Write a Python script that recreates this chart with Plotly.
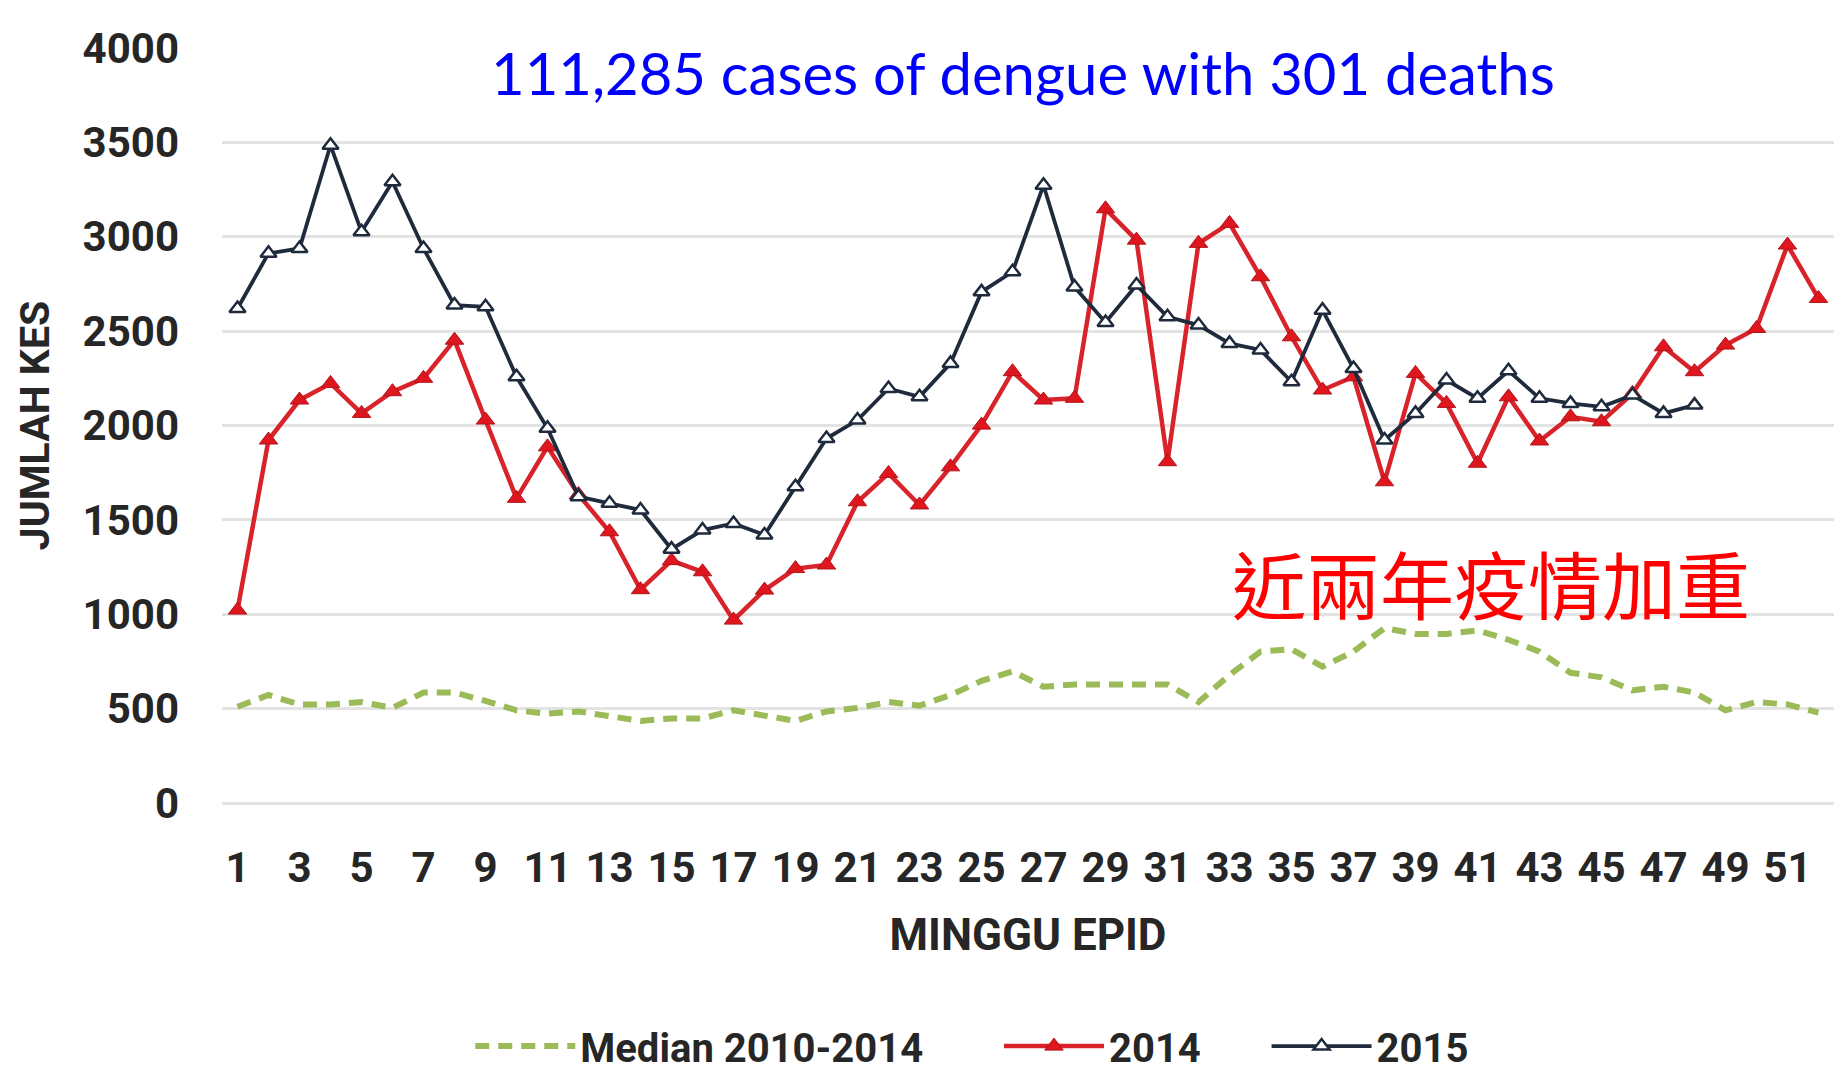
import plotly.graph_objects as go

weeks = list(range(1, 53))

median_2010_2014 = [510, 572, 522, 522, 535, 504, 585, 585, 541, 491,
                    473, 485, 460, 435, 448, 448, 491, 460, 435, 485,
                    504, 535, 516, 572, 647, 697, 616, 628, 628, 628,
                    628, 535, 678, 802, 815, 722, 802, 927, 896, 896,
                    914, 865, 802, 690, 666, 597, 616, 585, 491, 535,
                    522, 479]

cases_2014 = [1022, 1923, 2135, 2223, 2064, 2179, 2250, 2452, 2029, 1614,
              1887, 1634, 1437, 1130, 1284, 1225, 969, 1128, 1242, 1261,
              1596, 1746, 1579, 1781, 2002, 2285, 2135, 2144, 3148, 2982,
              1808, 2965, 3071, 2788, 2470, 2188, 2258, 1702, 2276, 2117,
              1800, 2152, 1918, 2046, 2020, 2170, 2417, 2285, 2426, 2514,
              2956, 2673]

cases_2015 = [2620, 2912, 2938, 3485, 3026, 3291, 2938, 2638, 2629, 2258,
              1985, 1623, 1588, 1552, 1345, 1446, 1481, 1420, 1675, 1931,
              2029, 2196, 2152, 2329, 2708, 2814, 3273, 2734, 2546, 2744,
              2576, 2532, 2435, 2400, 2232, 2611, 2302, 1923, 2064, 2241,
              2144, 2290, 2144, 2117, 2099, 2161, 2064, 2108]

y_ticks = [0, 500, 1000, 1500, 2000, 2500, 3000, 3500, 4000]
x_ticks = list(range(1, 52, 2))

title_text = "111,285 cases of dengue with 301 deaths"
note_text = "近兩年疫情加重"

FONT = "Roboto, Arial, sans-serif"
TXT = "#262626"

fig = go.Figure()

fig.add_trace(go.Scatter(
    x=weeks, y=median_2010_2014, name="Median 2010-2014", mode="lines",
    line=dict(color="#9BBB59", width=6, dash="14px,9px"),
    legend="legend",
))
fig.add_trace(go.Scatter(
    x=weeks, y=cases_2014, name="2014", mode="lines+markers",
    line=dict(color="#D9232B", width=4.5),
    marker=dict(symbol="triangle-up", size=16, color="#E0161F",
                line=dict(color="#B0141B", width=1)),
    legend="legend2",
))
fig.add_trace(go.Scatter(
    x=weeks[:len(cases_2015)], y=cases_2015, name="2015", mode="lines+markers",
    line=dict(color="#1F2B3C", width=3.8),
    marker=dict(symbol="triangle-up", size=14, color="#FFFFFF",
                line=dict(color="#1F2B3C", width=2.5)),
    legend="legend3",
))

tick_font = dict(family=FONT, size=42, color=TXT, weight="bold")
legend_font = dict(family=FONT, size=40, color=TXT, weight="bold")


def make_legend(x):
    return dict(orientation="h", x=x, xanchor="left", y=-0.322, yanchor="middle",
                font=legend_font, itemwidth=100, bgcolor="rgba(0,0,0,0)")


fig.update_layout(
    width=1841, height=1071,
    paper_bgcolor="white", plot_bgcolor="white",
    margin=dict(l=222, r=7, t=48, b=268, autoexpand=False),
    showlegend=True,
    legend=make_legend(0.154),
    legend2=make_legend(0.482),
    legend3=make_legend(0.648),
    xaxis=dict(
        range=[0.5, 52.5], tickmode="array", tickvals=x_ticks,
        ticktext=[str(v) for v in x_ticks],
        showgrid=False, zeroline=False, showline=False, ticks="",
        tickfont=tick_font, ticklabelstandoff=36,
        title=dict(text="MINGGU EPID", standoff=28,
                   font=dict(family=FONT, size=44, color=TXT, weight="bold")),
        automargin=False,
    ),
    yaxis=dict(
        range=[0, 4000], tickmode="array", tickvals=y_ticks,
        ticktext=[str(v) for v in y_ticks],
        showgrid=True, gridcolor="#E3E3E3", gridwidth=3,
        zeroline=True, zerolinecolor="#E3E3E3", zerolinewidth=3,
        showline=False, ticks="",
        tickfont=tick_font, ticklabelstandoff=42,
        title=dict(text="JUMLAH KES", standoff=20,
                   font=dict(family=FONT, size=41, color=TXT, weight="bold")),
        automargin=False,
    ),
    annotations=[
        dict(text=title_text, xref="paper", yref="paper", x=0.497, y=0.967,
             xanchor="center", yanchor="middle", showarrow=False,
             font=dict(family="Lato, 'Liberation Sans', sans-serif", size=58, color="#0000FF")),
        dict(text=note_text, xref="paper", yref="paper", x=0.787, y=0.294,
             xanchor="center", yanchor="middle", showarrow=False,
             font=dict(family="'Noto Sans CJK TC', sans-serif", size=74, color="#FF0000")),
    ],
)

fig.write_html(
    "out.html",
    config={"displayModeBar": False},
    post_script="document.body.style.margin='0';document.body.style.padding='0';document.body.style.overflow='hidden';",
)
